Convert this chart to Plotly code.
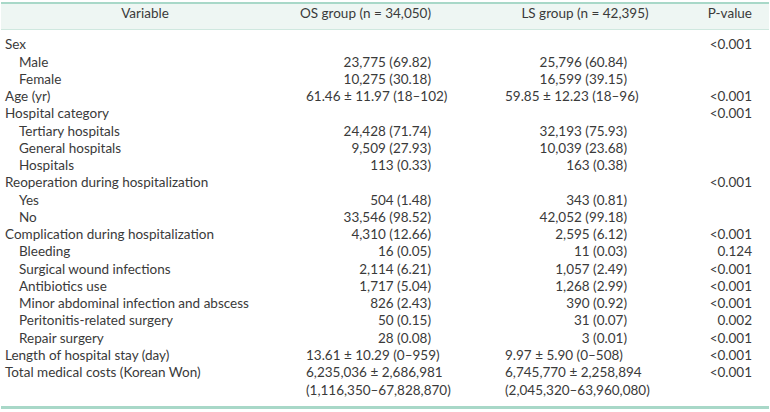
import plotly.graph_objects as go

W, H = 770, 412

# ---------------- data ----------------
headers = ["Variable", "OS group (n = 34,050)", "LS group (n = 42,395)", "P-value"]

labels = [
    "Sex", "Male", "Female", "Age (yr)", "Hospital category",
    "Tertiary hospitals", "General hospitals", "Hospitals",
    "Reoperation during hospitalization", "Yes", "No",
    "Complication during hospitalization", "Bleeding",
    "Surgical wound infections", "Antibiotics use",
    "Minor abdominal infection and abscess", "Peritonitis-related surgery",
    "Repair surgery", "Length of hospital stay (day)",
    "Total medical costs (Korean Won)",
]
indent = [0, 1, 1, 0, 0, 1, 1, 1, 0, 1, 1, 0, 1, 1, 1, 1, 1, 1, 0, 0]

os_vals = [
    "", "23,775 (69.82)", "10,275 (30.18)", "61.46 ± 11.97 (18–102)", "",
    "24,428 (71.74)", "9,509 (27.93)", "113 (0.33)", "",
    "504 (1.48)", "33,546 (98.52)", "4,310 (12.66)", "16 (0.05)",
    "2,114 (6.21)", "1,717 (5.04)", "826 (2.43)", "50 (0.15)", "28 (0.08)",
    "13.61 ± 10.29 (0–959)",
    "6,235,036 ± 2,686,981<br>(1,116,350–67,828,870)",
]
ls_vals = [
    "", "25,796 (60.84)", "16,599 (39.15)", "59.85 ± 12.23 (18–96)", "",
    "32,193 (75.93)", "10,039 (23.68)", "163 (0.38)", "",
    "343 (0.81)", "42,052 (99.18)", "2,595 (6.12)", "11 (0.03)",
    "1,057 (2.49)", "1,268 (2.99)", "390 (0.92)", "31 (0.07)", "3 (0.01)",
    "9.97 ± 5.90 (0–508)",
    "6,745,770 ± 2,258,894<br>(2,045,320–63,960,080)",
]
p_vals = [
    "<0.001", "", "", "<0.001", "<0.001", "", "", "", "<0.001", "", "",
    "<0.001", "0.124", "<0.001", "<0.001", "<0.001", "0.002", "<0.001",
    "<0.001", "<0.001",
]

# ---------------- layout constants (pixels) ----------------
FONT = "Lato"
FS = 13.5
TXT = "#3a3a3a"
ROW0, ROWH = 46, 17.25        # first body row centre, row pitch
HEAD_Y = 15                   # header text centre
LBL_X, IND_X = 5, 19
VAR_HX = 145
OS_L, OS_R, OS_HR = 306, 431, 431
LS_L, LS_R, LS_HX = 505, 627, 585
P_R = 752
TEAL = "#a8d8c8"
TEAL_LIGHT = "#cfe8df"
HEAD_FILL = "#eef6f3"


def row_y(i, text=""):
    # multi-line cells are centred between their two lines
    return i + (0.5 if "<br>" in text else 0)


head_i = (HEAD_Y - ROW0) / ROWH
y_top = (0 - ROW0) / ROWH
y_bot = (H - ROW0) / ROWH

fig = go.Figure()


def add_text(xs, ys, texts, pos):
    fig.add_trace(go.Scatter(
        x=xs, y=ys, text=texts, mode="text", textposition=pos,
        textfont=dict(family=FONT, size=FS, color=TXT),
        hoverinfo="skip", showlegend=False,
    ))


# header
add_text([VAR_HX, LS_HX], [head_i] * 2, [headers[0], headers[2]], "middle center")
add_text([OS_HR, P_R], [head_i] * 2, [headers[1], headers[3]], "middle left")

# labels
add_text([IND_X if k else LBL_X for k in indent], list(range(len(labels))),
         labels, "middle right")

# group columns: summary rows (±) left aligned, counts right aligned
for vals, L, R in ((os_vals, OS_L, OS_R), (ls_vals, LS_L, LS_R)):
    left = [(i, v) for i, v in enumerate(vals) if v and "±" in v]
    right = [(i, v) for i, v in enumerate(vals) if v and "±" not in v]
    add_text([L] * len(left), [row_y(i, v) for i, v in left],
             [v for _, v in left], "middle right")
    add_text([R] * len(right), [row_y(i, v) for i, v in right],
             [v for _, v in right], "middle left")

# p-values, right aligned
pv = [(i, v) for i, v in enumerate(p_vals) if v]
add_text([P_R] * len(pv), [i for i, _ in pv], [v for _, v in pv], "middle left")


def py(p):
    return 1 - p / H


shapes = [
    dict(type="rect", xref="paper", yref="paper", x0=1 / W, x1=769 / W,
         y0=py(29.5), y1=py(2), fillcolor=HEAD_FILL, line=dict(width=0), layer="below"),
    dict(type="line", xref="paper", yref="paper", x0=1 / W, x1=769 / W,
         y0=py(3), y1=py(3), line=dict(color=TEAL, width=2)),
    dict(type="line", xref="paper", yref="paper", x0=1 / W, x1=769 / W,
         y0=py(29.5), y1=py(29.5), line=dict(color=TEAL_LIGHT, width=1)),
    dict(type="line", xref="paper", yref="paper", x0=1 / W, x1=769 / W,
         y0=py(407.5), y1=py(407.5), line=dict(color=TEAL, width=3)),
]

fig.update_layout(
    width=W, height=H,
    margin=dict(l=0, r=0, t=0, b=0),
    paper_bgcolor="white", plot_bgcolor="white",
    xaxis=dict(range=[0, W], visible=False, fixedrange=True),
    yaxis=dict(range=[y_bot, y_top], visible=False, fixedrange=True),
    shapes=shapes,
    showlegend=False,
)

fig.write_html(
    "out.html",
    config={"displayModeBar": False},
    post_script="document.body.style.margin='0';document.body.style.overflow='hidden';",
)
